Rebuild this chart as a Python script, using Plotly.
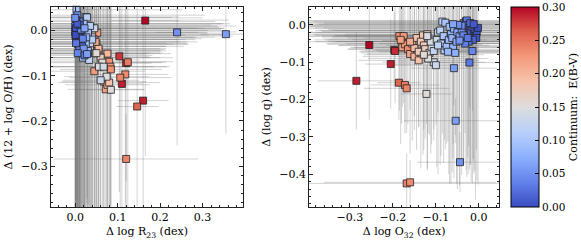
import plotly.graph_objects as go

# E(B-V) continuum for each object
ebv = [0.30, 0.29, 0.29, 0.28, 0.285, 0.26,
       0.24, 0.235, 0.245, 0.24, 0.23, 0.225, 0.23, 0.22, 0.225, 0.22, 0.235, 0.22,
       0.20, 0.19, 0.20, 0.19, 0.185, 0.195, 0.18, 0.18, 0.175, 0.21, 0.17, 0.175,
       0.155, 0.15, 0.145, 0.14, 0.15, 0.13, 0.14, 0.135, 0.145, 0.13, 0.125, 0.155,
       0.11, 0.10, 0.115, 0.10, 0.11, 0.105, 0.095, 0.09, 0.085, 0.09, 0.08, 0.085,
       0.075, 0.08, 0.07, 0.075, 0.12, 0.07, 0.065, 0.06, 0.05,
       0.05, 0.045, 0.04, 0.035, 0.03, 0.03, 0.025, 0.02, 0.02, 0.015, 0.01, 0.01,
       0.005, 0.0, 0.005, 0.015, 0.025, 0.035, 0.04, 0.045, 0.02, 0.03, 0.01, 0.055,
       0.04, 0.03, 0.06, 0.05, 0.065]

d_r23 = [0.165, 0.160, 0.110, 0.104, 0.120, 0.146,
         0.120, 0.118, 0.124, 0.106, 0.080, 0.083, 0.084, 0.068, 0.045, 0.052, 0.055, 0.072,
         0.076, 0.080, 0.076, 0.050, 0.045, 0.055, 0.040, 0.035, 0.060, 0.048, 0.038, 0.030,
         0.084, 0.064, 0.056, 0.067, 0.074, 0.060, 0.030, 0.025, 0.040, 0.045, 0.035, 0.050,
         0.028, 0.003, 0.035, 0.030, 0.040, 0.022, 0.018, 0.025, 0.015, 0.020, 0.012, 0.030,
         0.010, 0.026, 0.008, 0.018, 0.033, 0.005, 0.012, 0.355, 0.240,
         0.010, 0.005, 0.002, 0.000, 0.004, 0.008, 0.012, 0.006, 0.001, 0.003, 0.009, 0.000,
         0.002, 0.001, 0.014, 0.007, 0.016, 0.010, 0.018, 0.014, 0.011, 0.002, 0.005, 0.020,
         0.006, 0.022, 0.028, 0.000, 0.022]

d_oh = [0.022, -0.155, -0.118, -0.057, -0.072, -0.168,
        -0.284, -0.097, -0.070, -0.104, -0.069, -0.080, -0.086, -0.113, -0.090, -0.005, -0.045, -0.130,
        -0.120, -0.115, -0.051, -0.030, -0.020, -0.040, -0.010, -0.035, -0.060, -0.025, 0.005, -0.012,
        -0.131, -0.071, -0.080, -0.080, -0.102, -0.110, -0.060, 0.030, -0.015, 0.005, -0.028, -0.050,
        0.029, 0.046, 0.010, -0.005, -0.020, -0.045, -0.060, -0.030, -0.010, 0.015, -0.035, -0.045,
        0.005, -0.015, -0.025, -0.050, -0.065, 0.015, -0.005, -0.008, -0.004,
        0.020, 0.034, 0.023, 0.010, 0.000, 0.008, 0.000, -0.008, -0.012, -0.020, -0.015, -0.003,
        0.005, -0.010, -0.025, -0.030, -0.035, -0.042, -0.018, 0.002, 0.012, -0.028, 0.015, -0.040,
        -0.050, -0.055, -0.052, 0.028, 0.005]

d_o32 = [-0.255, -0.285, -0.205, -0.197, -0.195, -0.186,
         -0.168, -0.160, -0.172, -0.168, -0.185, -0.175, -0.180, -0.178, -0.172, -0.182, -0.165, -0.160,
         -0.150, -0.140, -0.155, -0.145, -0.130, -0.150, -0.135, -0.128, -0.140, -0.160, -0.120, -0.125,
         -0.122, -0.115, -0.110, -0.105, -0.118, -0.100, -0.112, -0.098, -0.120, -0.095, -0.105, -0.128,
         -0.085, -0.078, -0.090, -0.082, -0.088, -0.080, -0.075, -0.070, -0.065, -0.068, -0.060, -0.072,
         -0.058, -0.062, -0.052, -0.055, -0.095, -0.050, -0.045, -0.054, -0.044,
         -0.040, -0.035, -0.030, -0.028, -0.025, -0.022, -0.020, -0.018, -0.015, -0.012, -0.010, -0.008,
         -0.005, -0.002, -0.006, -0.014, -0.024, -0.032, -0.036, -0.040, -0.020, -0.026, -0.012, -0.045,
         -0.015, -0.022, -0.058, -0.048, -0.060]

d_q = [-0.054, -0.150, -0.105, -0.067, -0.070, -0.155,
       -0.425, -0.422, -0.161, -0.170, -0.030, -0.030, -0.045, -0.060, -0.052, -0.040, -0.065, -0.078,
       -0.085, -0.095, -0.050, -0.035, -0.028, -0.062, -0.045, -0.055, -0.072, -0.045, -0.025, -0.065,
       -0.185, -0.075, -0.060, -0.100, -0.090, -0.108, -0.045, -0.040, -0.030, -0.020, -0.070, -0.080,
       0.009, 0.006, -0.015, -0.030, -0.050, -0.068, -0.058, -0.040, -0.025, -0.005, -0.060, -0.072,
       -0.010, -0.035, -0.045, -0.075, -0.055, -0.020, -0.030, -0.257, -0.368,
       -0.015, 0.005, 0.010, 0.012, 0.000, -0.008, -0.015, -0.020, -0.005, -0.025, -0.012, -0.030,
       -0.018, -0.008, -0.035, -0.040, -0.045, -0.050, -0.028, -0.002, 0.005, -0.035, 0.002, -0.042,
       -0.070, -0.101, -0.116, 0.000, 0.002]

err_r23 = [0.08, 0.06, 0.05, 0.07, 0.06, 0.05,
           0.17, 0.10, 0.09, 0.12, 0.15, 0.14, 0.12, 0.10, 0.12, 0.20, 0.16, 0.09,
           0.10, 0.12, 0.15, 0.18, 0.20, 0.16, 0.22, 0.18, 0.14, 0.20, 0.25, 0.20,
           0.08, 0.14, 0.16, 0.12, 0.10, 0.09, 0.20, 0.22, 0.24, 0.26, 0.18, 0.15,
           0.20, 0.25, 0.30, 0.28, 0.22, 0.18, 0.16, 0.24, 0.30, 0.33, 0.20, 0.17,
           0.34, 0.26, 0.28, 0.16, 0.12, 0.36, 0.30, 0.06, 0.05,
           0.32, 0.30, 0.36, 0.38, 0.35, 0.33, 0.30, 0.34, 0.37, 0.28, 0.32, 0.38,
           0.35, 0.36, 0.25, 0.26, 0.24, 0.20, 0.28, 0.33, 0.31, 0.26, 0.34, 0.18,
           0.20, 0.16, 0.14, 0.30, 0.32]

err_oh = [0.30, 0.25, 0.28, 0.30, 0.26, 0.22,
          0.10, 0.30, 0.32, 0.30, 0.35, 0.33, 0.30, 0.28, 0.34, 0.40, 0.36, 0.26,
          0.28, 0.30, 0.36, 0.38, 0.40, 0.36, 0.42, 0.38, 0.34, 0.40, 0.42, 0.40,
          0.26, 0.34, 0.36, 0.32, 0.30, 0.30, 0.38, 0.42, 0.40, 0.42, 0.38, 0.36,
          0.40, 0.42, 0.42, 0.40, 0.40, 0.36, 0.34, 0.40, 0.42, 0.44, 0.38, 0.36,
          0.42, 0.40, 0.42, 0.34, 0.32, 0.44, 0.42, 0.22, 0.25,
          0.42, 0.44, 0.44, 0.42, 0.43, 0.42, 0.40, 0.42, 0.44, 0.40, 0.42, 0.43,
          0.42, 0.44, 0.38, 0.40, 0.38, 0.36, 0.40, 0.42, 0.43, 0.38, 0.42, 0.36,
          0.36, 0.34, 0.33, 0.42, 0.43]

err_o32 = [0.07, 0.09, 0.06, 0.05, 0.08, 0.05,
           0.25, 0.20, 0.08, 0.10, 0.15, 0.14, 0.16, 0.12, 0.18, 0.20, 0.14, 0.10,
           0.12, 0.14, 0.20, 0.22, 0.25, 0.15, 0.26, 0.20, 0.14, 0.22, 0.28, 0.18,
           0.06, 0.16, 0.18, 0.12, 0.14, 0.10, 0.22, 0.26, 0.28, 0.30, 0.16, 0.14,
           0.30, 0.32, 0.28, 0.26, 0.22, 0.16, 0.18, 0.28, 0.32, 0.34, 0.18, 0.16,
           0.34, 0.28, 0.30, 0.14, 0.12, 0.36, 0.32, 0.12, 0.10,
           0.34, 0.36, 0.38, 0.40, 0.36, 0.34, 0.32, 0.36, 0.38, 0.30, 0.34, 0.40,
           0.36, 0.38, 0.26, 0.28, 0.24, 0.20, 0.30, 0.36, 0.34, 0.28, 0.36, 0.18,
           0.14, 0.12, 0.10, 0.34, 0.32]

err_q = [0.20, 0.13, 0.12, 0.10, 0.14, 0.10,
         0.08, 0.06, 0.10, 0.12, 0.20, 0.18, 0.22, 0.16, 0.24, 0.28, 0.20, 0.15,
         0.16, 0.18, 0.26, 0.30, 0.32, 0.22, 0.34, 0.28, 0.20, 0.30, 0.36, 0.24,
         0.08, 0.22, 0.26, 0.18, 0.20, 0.16, 0.30, 0.34, 0.36, 0.38, 0.24, 0.20,
         0.30, 0.34, 0.36, 0.34, 0.30, 0.24, 0.26, 0.36, 0.40, 0.42, 0.26, 0.24,
         0.40, 0.36, 0.38, 0.22, 0.18, 0.42, 0.40, 0.06, 0.08,
         0.36, 0.38, 0.40, 0.42, 0.40, 0.38, 0.36, 0.40, 0.42, 0.34, 0.38, 0.44,
         0.40, 0.42, 0.30, 0.32, 0.28, 0.24, 0.34, 0.40, 0.38, 0.32, 0.40, 0.22,
         0.16, 0.12, 0.10, 0.38, 0.36]

coolwarm = [[0.0, "#3b4cc0"], [0.125, "#6282ea"], [0.25, "#8db0fe"],
            [0.375, "#b8d0f9"], [0.5, "#dddddd"], [0.625, "#f5c4ad"],
            [0.75, "#f49a7b"], [0.875, "#de604d"], [1.0, "#b40426"]]

FONT = "DejaVu Serif"
ERRC = "rgba(110,110,110,0.30)"

fig = go.Figure()

def add_panel(xv, yv, ex, ey, xa, ya, showscale):
    fig.add_trace(go.Scatter(
        x=xv, y=yv, mode="markers", xaxis=xa, yaxis=ya,
        marker=dict(size=1, color="rgba(0,0,0,0)"),
        error_x=dict(type="data", array=ex, color=ERRC, thickness=1, width=0),
        error_y=dict(type="data", array=ey, color=ERRC, thickness=1, width=0),
        hoverinfo="skip", showlegend=False))
    fig.add_trace(go.Scatter(
        x=xv, y=yv, mode="markers", xaxis=xa, yaxis=ya, showlegend=False,
        marker=dict(symbol="square", size=7, color=ebv, colorscale=coolwarm,
                    cmin=0, cmax=0.3, line=dict(color="#222222", width=0.8),
                    showscale=showscale,
                    colorbar=dict(x=0.879, xanchor="left", y=0.971, yanchor="top",
                                  len=0.826, lenmode="fraction", thickness=28,
                                  xpad=0, ypad=0, outlinewidth=1, outlinecolor="black",
                                  ticks="inside", ticklen=4, tickcolor="black",
                                  tick0=0, dtick=0.05, tickformat=".2f",
                                  tickfont=dict(family=FONT, size=10.5, color="black"),
                                  title=dict(text="Continuum:  E(B-V)", side="right",
                                             font=dict(family=FONT, size=11, color="black")))),
        cliponaxis=False))

add_panel(d_r23, d_oh, err_r23, err_oh, "x", "y", True)
add_panel(d_o32, d_q, err_o32, err_q, "x2", "y2", False)

axis_common = dict(showline=True, linecolor="#222222", linewidth=1, mirror="allticks",
                   ticks="inside", ticklen=4, tickcolor="#222222", showgrid=False,
                   zeroline=False, tickformat=".1f", dtick=0.1, tick0=0, automargin=False,
                   tickfont=dict(family=FONT, size=11, color="black"),
                   minor=dict(ticks="inside", ticklen=2, dtick=0.02, tickcolor="#222222"))

fig.update_layout(
    template="none",
    width=581, height=242, margin=dict(l=0, r=0, t=0, b=0, autoexpand=False),
    paper_bgcolor="white", plot_bgcolor="white",
    font=dict(family=FONT, size=11, color="black"),
    xaxis=dict(domain=[0.0878, 0.418], range=[-0.057, 0.395], anchor="y",
               title=dict(text="Δ log R<sub>23</sub> (dex)", standoff=4,
                          font=dict(family=FONT, size=11)), **axis_common),
    yaxis=dict(domain=[0.145, 0.971], range=[-0.39, 0.052], anchor="x",
               title=dict(text="Δ (12 + log O/H) (dex)", standoff=6,
                          font=dict(family=FONT, size=11)), **axis_common),
    xaxis2=dict(domain=[0.532, 0.859], range=[-0.395, 0.047], anchor="y2",
                title=dict(text="Δ log O<sub>32</sub> (dex)", standoff=4,
                           font=dict(family=FONT, size=11)), **axis_common),
    yaxis2=dict(domain=[0.145, 0.971], range=[-0.488, 0.048], anchor="x2",
                title=dict(text="Δ (log q) (dex)", standoff=6,
                           font=dict(family=FONT, size=11)), **axis_common),
)

fig.write_html("out.html", config={"displayModeBar": False},
               post_script="document.body.style.margin='0';document.body.style.padding='0';")
